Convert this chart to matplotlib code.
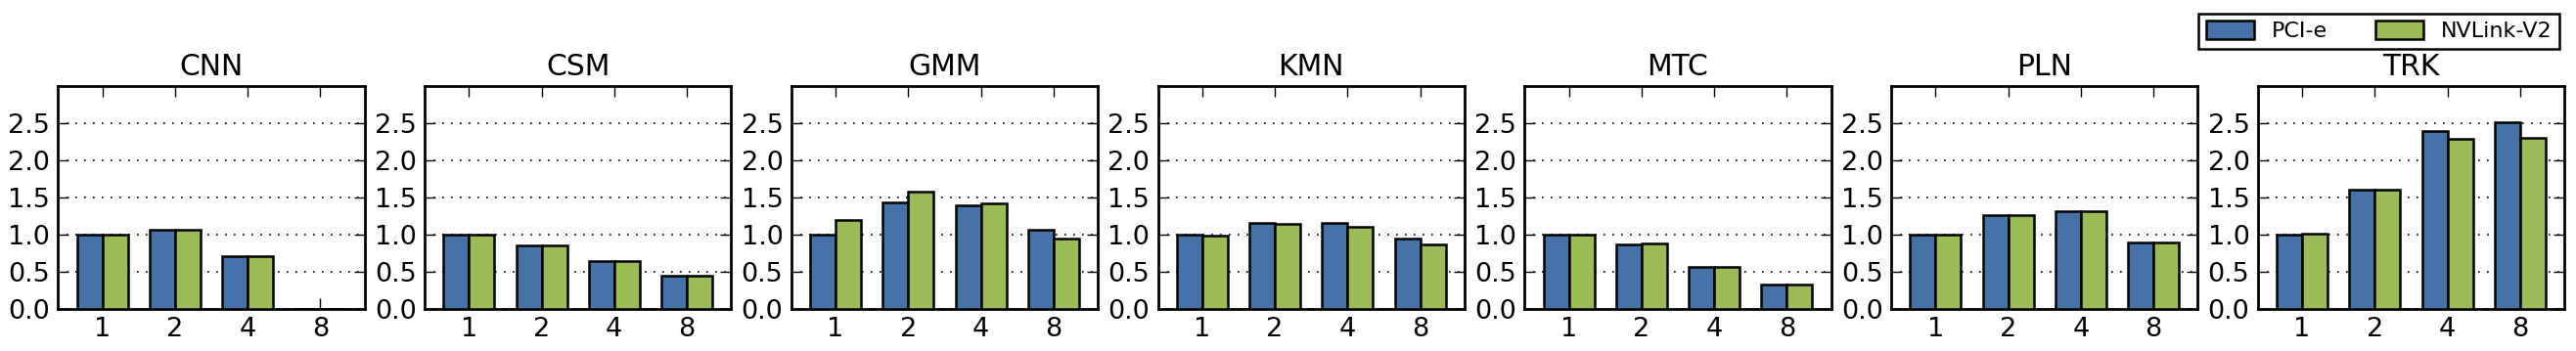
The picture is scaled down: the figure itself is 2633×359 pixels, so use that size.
import numpy as np
import matplotlib
matplotlib.use('Agg')
import matplotlib.pyplot as plt

# benchmark names and gpu counts
apps = ['CNN', 'CSM', 'GMM', 'KMN', 'MTC', 'PLN', 'TRK']
gpus = ['1', '2', '4', '8']

# normalized speedup, one list per app
pcie = {
    'CNN': [1.00, 1.07, 0.71, 0.0],
    'CSM': [1.00, 0.86, 0.65, 0.44],
    'GMM': [1.00, 1.43, 1.40, 1.06],
    'KMN': [1.00, 1.16, 1.16, 0.94],
    'MTC': [1.00, 0.87, 0.57, 0.325],
    'PLN': [1.00, 1.26, 1.32, 0.90],
    'TRK': [1.00, 1.61, 2.39, 2.51],
}
nvlink = {
    'CNN': [1.00, 1.07, 0.71, 0.0],
    'CSM': [1.00, 0.86, 0.65, 0.44],
    'GMM': [1.20, 1.58, 1.42, 0.94],
    'KMN': [0.99, 1.145, 1.10, 0.87],
    'MTC': [1.00, 0.88, 0.57, 0.325],
    'PLN': [1.00, 1.26, 1.32, 0.90],
    'TRK': [1.01, 1.61, 2.29, 2.30],
}

blue = '#4572a7'
green = '#9bbb59'

fig, axes = plt.subplots(1, 7, figsize=(26.33, 3.59), dpi=100)
plt.subplots_adjust(left=0.0225, right=0.9955, top=0.755, bottom=0.12, wspace=0.196)

x = np.arange(len(gpus))
w = 0.35
for ax, app in zip(axes, apps):
    b1 = ax.bar(x - w / 2, pcie[app], w, color=blue, edgecolor='black', linewidth=1.8, zorder=3, label='PCI-e')
    b2 = ax.bar(x + w / 2, nvlink[app], w, color=green, edgecolor='black', linewidth=1.8, zorder=3, label='NVLink-V2')
    ax.set_xlim(-0.61, 3.61)
    ax.set_ylim(0, 3.0)
    ax.set_yticks([0, 0.5, 1.0, 1.5, 2.0, 2.5])
    ax.set_xticks(x)
    ax.set_xticklabels(gpus)
    ax.yaxis.grid(True, linestyle=(0, (1, 4.4)), color='black', linewidth=1.2, zorder=0)
    ax.set_axisbelow(True)
    ax.tick_params(direction='in', top=True, right=True, length=8, width=1, labelsize=19.5, pad=6)
    for s in ax.spines.values():
        s.set_linewidth(2)
    ax.set_title(app, fontsize=21.5, pad=8)

leg = fig.legend([b1, b2], ['PCI-e', 'NVLink-V2'], loc='upper right', bbox_to_anchor=(0.9935, 0.962),
                 ncol=2, fontsize=16, fancybox=False, edgecolor='black', framealpha=1,
                 borderaxespad=0, handlelength=2.2, handleheight=0.9, columnspacing=2.2, borderpad=0.35)
leg.get_frame().set_linewidth(1.8)

plt.savefig('out.png', dpi=100)
